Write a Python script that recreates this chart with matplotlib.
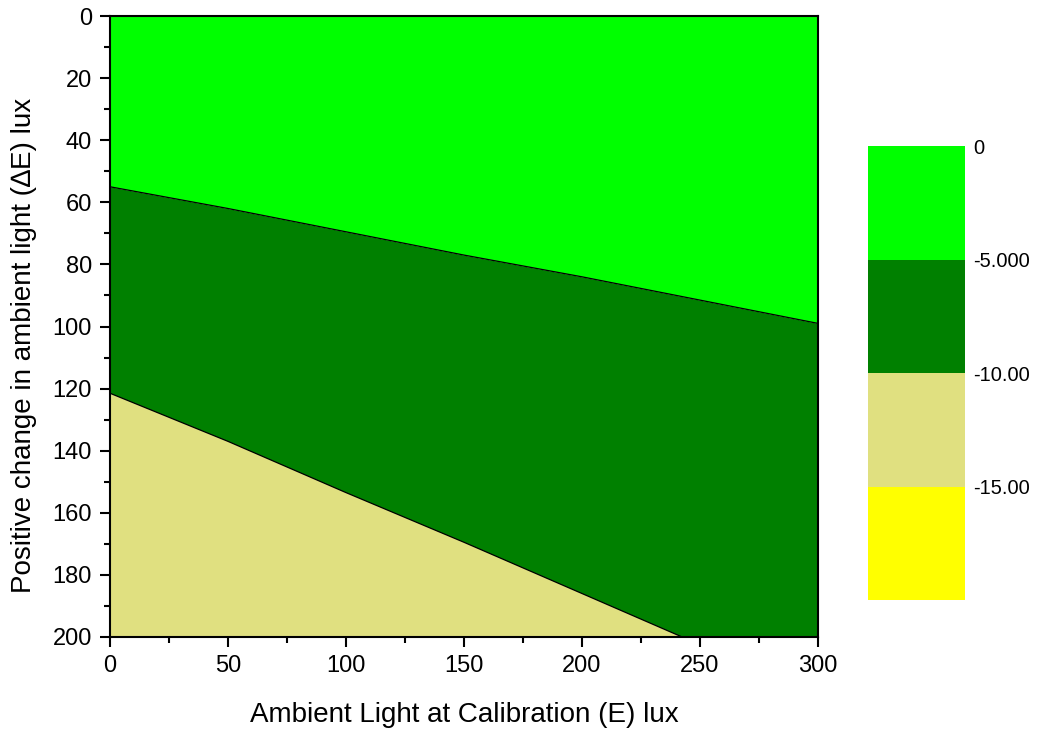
import numpy as np
import matplotlib.pyplot as plt
from matplotlib.colors import ListedColormap, BoundaryNorm
from matplotlib.colorbar import ColorbarBase
from matplotlib.ticker import MultipleLocator

plt.rcParams['font.family'] = ['Liberation Sans', 'DejaVu Sans']

# Contour boundaries (delta E lux at each E lux).
E = [0, 50, 100, 150, 200, 250, 300]
edge_minus5 = [55, 62, 69.5, 77, 84, 91.5, 99]
edge_minus10 = [121.5, 137, 153.5, 169.5, 186, 202.5, 219]

levels = [-20, -15, -10, -5, 0]
level_labels = ['0', '-5.000', '-10.00', '-15.00']
level_colors = ['#FFFF00', '#E0E080', '#008000', '#00FF00']  # low -> high

fig = plt.figure(figsize=(10.37, 7.31), dpi=100)
ax = fig.add_axes([0.1061, 0.1286, 0.6827, 0.8495])

# Fill each band between the contour edges.
ax.fill_between(E, 0, edge_minus5, color=level_colors[3], lw=0)
ax.fill_between(E, edge_minus5, edge_minus10, color=level_colors[2], lw=0)
ax.fill_between(E, edge_minus10, 250, color=level_colors[1], lw=0)
ax.plot(E, edge_minus5, color='black', lw=0.9)
ax.plot(E, edge_minus10, color='black', lw=0.9)

ax.set_xlim(0, 300)
ax.set_ylim(200, 0)
ax.xaxis.set_major_locator(MultipleLocator(50))
ax.xaxis.set_minor_locator(MultipleLocator(25))
ax.yaxis.set_major_locator(MultipleLocator(20))
ax.yaxis.set_minor_locator(MultipleLocator(10))
ax.tick_params(which='both', direction='out', width=1.5, labelsize=17)
ax.tick_params(which='major', length=7, pad=6)
ax.tick_params(which='minor', length=4.5)
for s in ax.spines.values():
    s.set_linewidth(1.5)

ax.set_xlabel('Ambient Light at Calibration (E) lux', fontsize=20, labelpad=18)
ax.set_ylabel('Positive change in ambient light (\u2206E) lux', fontsize=20)
ax.yaxis.set_label_coords(-0.103, 0.469)

# Colour scale block.
cax = fig.add_axes([0.837, 0.1792, 0.0935, 0.621])
cb = ColorbarBase(cax, cmap=ListedColormap(level_colors),
                  norm=BoundaryNorm(levels, 4), boundaries=levels,
                  orientation='vertical')
cb.outline.set_visible(False)
cb.set_ticks([0, -5, -10, -15])
cb.set_ticklabels(level_labels)
cb.minorticks_off()
cax.tick_params(which='both', length=0, pad=6, labelsize=14.5)

fig.savefig('out.png', dpi=100)
